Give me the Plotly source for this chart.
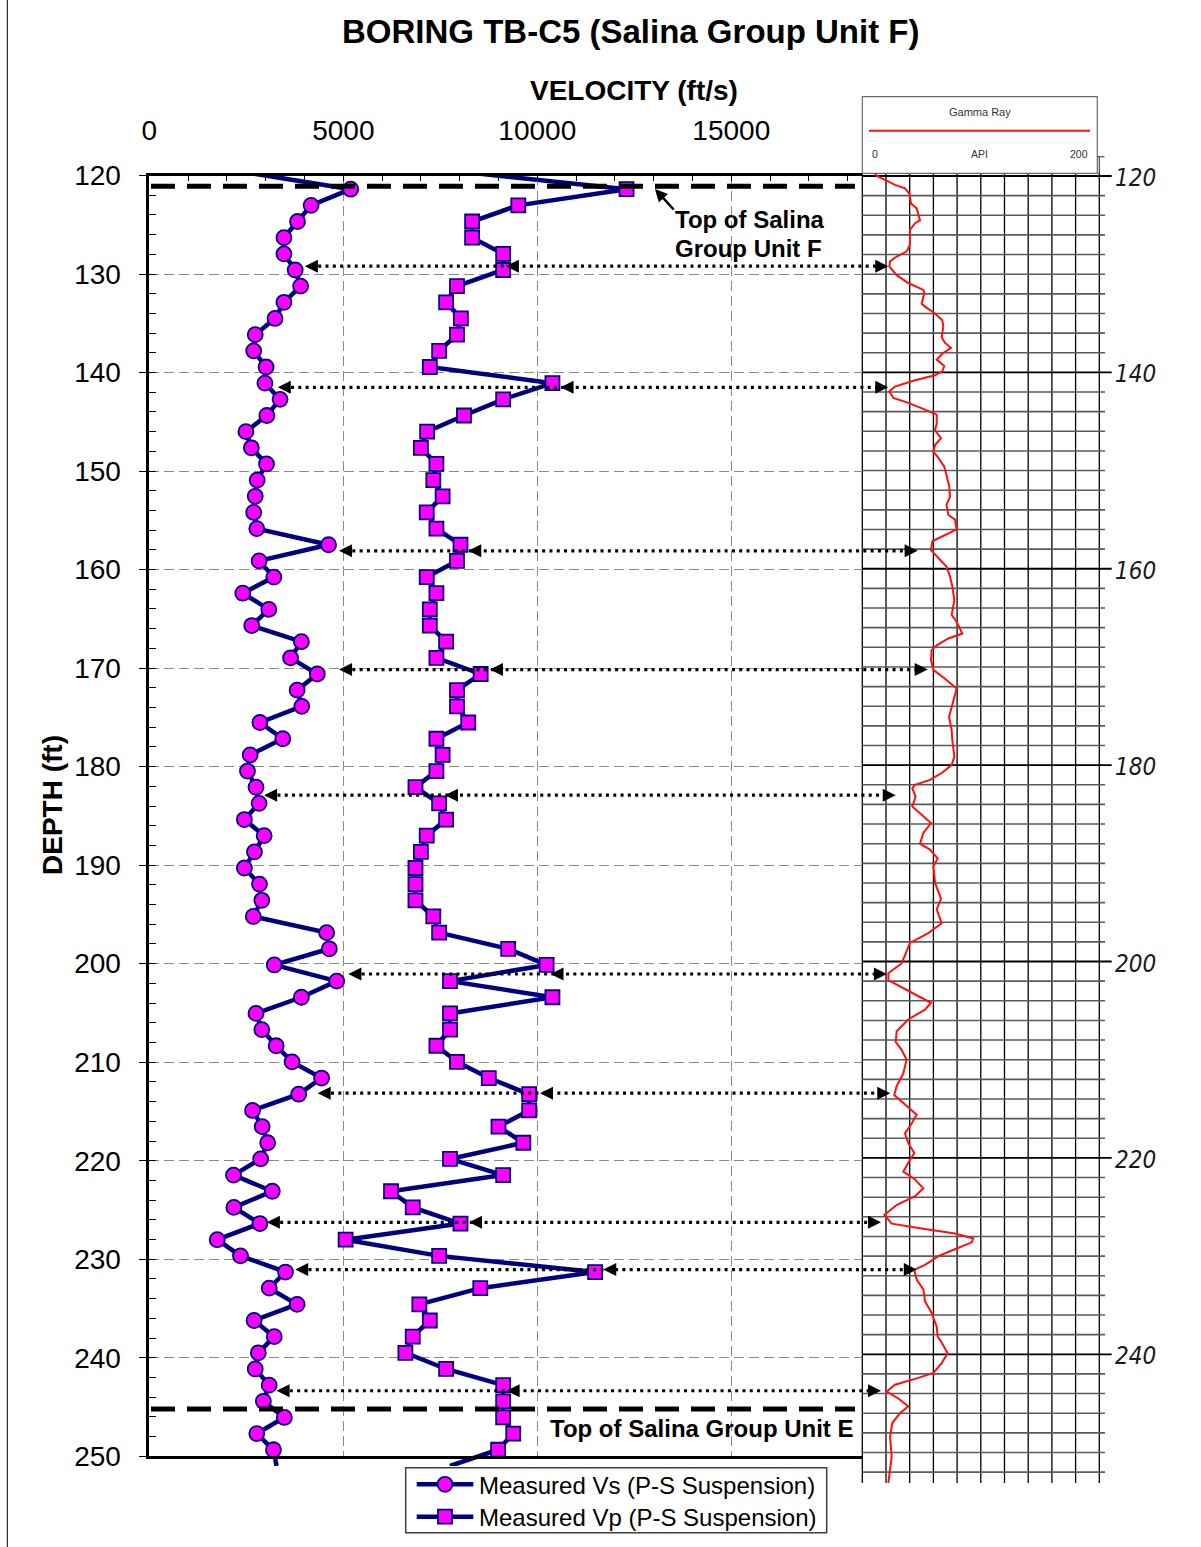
import plotly.graph_objects as go

# ---------------------------------------------------------------- data
# P-S suspension readings, every 0.5 m (depths in ft). The first and last
# readings sit just outside the plotted 120-250 ft window.
DEPTH_FT = [119.75, 121.39, 123.03, 124.67, 126.31, 127.95, 129.59, 131.23, 132.87, 134.51,
            136.15, 137.80, 139.44, 141.08, 142.72, 144.36, 146.00, 147.64, 149.28, 150.92,
            152.56, 154.20, 155.84, 157.48, 159.12, 160.76, 162.40, 164.04, 165.68, 167.32,
            168.96, 170.60, 172.24, 173.88, 175.52, 177.17, 178.81, 180.45, 182.09, 183.73,
            185.37, 187.01, 188.65, 190.29, 191.93, 193.57, 195.21, 196.85, 198.49, 200.13,
            201.77, 203.41, 205.05, 206.69, 208.33, 209.97, 211.61, 213.25, 214.90, 216.54,
            218.18, 219.82, 221.46, 223.10, 224.74, 226.38, 228.02, 229.66, 231.30, 232.94,
            234.58, 236.22, 237.86, 239.50, 241.14, 242.78, 244.42, 246.06, 247.70, 249.34,
            250.98]

VS_FTS = [2600, 5190, 4170, 3820, 3470, 3470, 3760, 3900, 3470, 3240,
          2730, 2690, 3010, 2980, 3370, 3030, 2490, 2630, 3020, 2780,
          2730, 2690, 2770, 4620, 2830, 3210, 2410, 3080, 2640, 3920,
          3640, 4330, 3810, 3930, 2850, 3440, 2600, 2530, 2750, 2830,
          2450, 2960, 2710, 2450, 2840, 2900, 2680, 4570, 4640, 3220,
          4830, 3920, 2750, 2900, 3270, 3680, 4440, 3850, 2660, 2910,
          3050, 2870, 2170, 3170, 2180, 2850, 1750, 2350, 3510, 3090,
          3810, 2700, 3220, 2810, 2730, 3090, 2940, 3480, 2770, 3200,
          3280]

VP_FTS = [8350, 12300, 9510, 8320, 8320, 9120, 9120, 7930, 7650, 8030,
          7930, 7470, 7230, 10390, 9120, 8110, 7160, 7000, 7400, 7320,
          7560, 7150, 7400, 8020, 7930, 7150, 7400, 7230, 7230, 7650,
          7400, 8540, 7930, 7930, 8220, 7400, 7560, 7400, 6860, 7470,
          7650, 7150, 7000, 6860, 6860, 6860, 7320, 7470, 9250, 10240,
          7750, 10390, 7750, 7750, 7400, 7930, 8750, 9790, 9790, 9000,
          9640, 7750, 9120, 6230, 6790, 8020, 5060, 7470, 11490, 8530,
          6960, 7230, 6790, 6600, 7650, 9120, 9120, 9120, 9380, 8990,
          7750]

# Natural gamma log (API) against depth (ft)
GR_DEPTH = [119.7, 120.0, 120.4, 120.9, 121.25, 121.8, 122.8, 123.3, 124.5, 124.8,
            125.5, 126.2, 127.0, 127.7, 128.2, 128.7, 129.2, 130.1, 130.9, 131.6,
            131.9, 133.0, 133.3, 134.0, 134.7, 135.3, 136.4, 137.0, 137.5, 138.1,
            138.7, 139.35, 139.9, 140.3, 140.8, 141.45, 141.95, 142.6, 143.1, 143.8,
            144.3, 145.2, 145.9, 146.7, 147.4, 148.1, 148.6, 149.6, 150.6, 151.6,
            152.7, 153.5, 154.5, 155.0, 156.0, 156.7, 157.2, 158.1, 158.9, 159.8,
            160.8, 161.8, 163.2, 164.7, 165.4, 166.6, 167.1, 167.8, 168.3, 169.3,
            170.3, 171.2, 172.2, 173.4, 175.1, 176.4, 177.5, 179.1, 180.0, 180.8,
            181.5, 182.0, 182.35, 183.2, 184.2, 185.2, 185.9, 186.9, 188.0, 188.6,
            189.5, 190.3, 192.0, 193.6, 194.7, 196.1, 197.1, 198.1, 199.2, 200.2,
            201.2, 201.9, 202.9, 204.2, 204.9, 205.9, 207.1, 208.2, 209.0, 210.0,
            211.4, 212.7, 213.6, 214.4, 215.6, 216.5, 217.5, 218.5, 219.5, 220.5,
            221.4, 222.2, 223.1, 223.9, 224.8, 225.8, 226.7, 227.2, 227.7, 228.2,
            228.6, 229.3, 230.0, 230.9, 231.4, 232.4, 233.4, 234.6, 235.8, 237.2,
            238.2, 238.9, 239.9, 240.9, 241.9, 242.4, 243.1, 243.8, 244.5, 245.3,
            246.0, 247.0, 248.4, 250.4, 251.8, 253.1]

GR_API = [10.7, 12.1, 19.2, 27.6, 36.0, 39.7, 41.1, 45.9, 48.7, 44.5,
          40.2, 40.2, 40.2, 37.4, 29.0, 23.4, 22.8, 29.0, 38.8, 51.5,
          52.4, 50.1, 52.9, 61.4, 67.5, 68.4, 67.0, 69.8, 74.8, 67.5,
          62.8, 69.2, 67.5, 61.4, 44.5, 27.6, 22.8, 26.2, 38.8, 52.9,
          62.8, 62.8, 61.4, 66.4, 61.4, 60.0, 63.6, 69.2, 71.2, 73.4,
          74.0, 71.0, 72.6, 78.2, 79.6, 67.0, 59.1, 58.0, 64.2, 71.2,
          74.0, 76.0, 77.7, 75.4, 79.6, 84.4, 72.6, 62.8, 58.5, 58.0,
          60.0, 69.8, 79.6, 76.8, 73.2, 75.4, 76.0, 77.7, 75.4, 67.0,
          57.1, 44.5, 42.2, 45.0, 42.2, 51.5, 58.0, 51.5, 48.7, 57.1,
          63.6, 60.0, 61.4, 66.4, 62.8, 67.0, 55.7, 40.2, 36.6, 33.2,
          22.0, 22.0, 37.5, 58.0, 52.9, 38.8, 29.0, 28.2, 33.2, 37.4,
          34.6, 29.0, 27.0, 34.6, 45.9, 41.7, 36.0, 38.8, 43.9, 38.8,
          34.6, 44.5, 51.5, 44.5, 29.0, 18.6, 24.8, 50.1, 78.2, 93.7,
          92.3, 78.2, 64.2, 52.9, 43.9, 45.9, 51.5, 52.9, 58.5, 62.8,
          63.6, 67.5, 72.0, 67.0, 60.0, 47.3, 27.6, 20.6, 30.4, 38.8,
          31.8, 25.3, 23.4, 24.8, 23.4, 22.0]

# Correlation arrows: depth (ft), Vs tip (ft/s), Vp tip (ft/s), gamma tip (API)
ARROW_DEPTH = [129.2, 141.5, 158.1, 170.15, 182.9, 201.05, 213.15, 226.25, 231.05, 243.35]
ARROW_VS_TIP = [4010, 3310, 4890, 4890, 2960, 5130, 4340, 3030, 3760, 3280]
ARROW_VP_TIP = [9190, 10600, 8220, 8780, 7620, 10340, 10070, 8240, 11700, 9210]
ARROW_GR_TIP = [21.9, 21.9, 46.7, 55.2, 28.2, 20.8, 23.6, 15.8, 46.0, 15.8]

TOP_UNIT_F_FT = 121.08
TOP_UNIT_E_FT = 245.2

DEPTH_TICKS = [120, 140, 160, 180, 200, 220, 240]

# ---------------------------------------------------------------- page geometry
W, H = 1201, 1547
PLOT_LEFT, PLOT_RIGHT = 149.3, 862.3      # px of 0 ft/s and right edge of velocity frame
PX_PER_FTS = 194.0 / 5000.0
PLOT_TOP = 175.5                           # px of 120 ft
PX_PER_FT = 9.852
GR_LEFT, GR_RIGHT = 862.3, 1099.3          # px of 0 and 200 API
GR_TOP = 176.0                             # px of 120 ft on the log strip
GR_PX_PER_FT = 9.819

NAVY = "#000080"
MAGENTA = "#FF00FF"
FONT = "Liberation Sans, Arial, sans-serif"
NARROW = "Liberation Sans Narrow, DejaVu Sans Condensed, Roboto Condensed, Liberation Sans, sans-serif"


def vel_px(v):
    return PLOT_LEFT + v * PX_PER_FTS


def dep_px(d):
    return PLOT_TOP + (d - 120.0) * PX_PER_FT


def api_px(a):
    return GR_LEFT + a * (GR_RIGHT - GR_LEFT) / 200.0


def grdep_px(d):
    return GR_TOP + (d - 120.0) * GR_PX_PER_FT


def fx(px):
    return px / W


def fy(py):
    return 1.0 - py / H


fig = go.Figure()

# ---------------------------------------------------------------- velocity traces
# line ends that run past the frame (drawn underneath the main subplot)
ext_x_vs = [VS_FTS[0], VS_FTS[1], None, VS_FTS[-2], VS_FTS[-1]]
ext_x_vp = [VP_FTS[0], VP_FTS[1], None, VP_FTS[-2], VP_FTS[-1]]
ext_y = [DEPTH_FT[0], DEPTH_FT[1], None, DEPTH_FT[-2], DEPTH_FT[-1]]
for xs in (ext_x_vs, ext_x_vp):
    fig.add_trace(go.Scatter(x=xs, y=ext_y, mode="lines", xaxis="x", yaxis="y",
                             line=dict(color=NAVY, width=4.5), showlegend=False,
                             hoverinfo="skip", connectgaps=False))

in_depth = DEPTH_FT[1:-1]
fig.add_trace(go.Scatter(
    x=VS_FTS[1:-1], y=in_depth, mode="lines+markers", xaxis="x2", yaxis="y2",
    name="Measured Vs (P-S Suspension)",
    line=dict(color=NAVY, width=4.5),
    marker=dict(symbol="circle", size=15, color=MAGENTA, line=dict(color=NAVY, width=1.8)),
    showlegend=False, cliponaxis=False))
fig.add_trace(go.Scatter(
    x=VP_FTS[1:-1], y=in_depth, mode="lines+markers", xaxis="x2", yaxis="y2",
    name="Measured Vp (P-S Suspension)",
    line=dict(color=NAVY, width=4.5),
    marker=dict(symbol="square", size=14, color=MAGENTA, line=dict(color=NAVY, width=1.8)),
    showlegend=False, cliponaxis=False))

# ---------------------------------------------------------------- gamma log trace
GR_D0, GR_D1 = 119.7, 253.1
fig.add_trace(go.Scatter(x=GR_API, y=GR_DEPTH, mode="lines", xaxis="x3", yaxis="y3",
                         line=dict(color="#FF1010", width=2), showlegend=False,
                         name="Gamma Ray"))

# ---------------------------------------------------------------- legend samples
LEG = dict(x0=405.7, y0=1467.7, x1=826.7, y1=1532.7)
LEG_ROWS = [1484.3, 1516.7]
LEG_SYMBOLS = [("circle", 15), ("square", 14)]
LEG_TEXT = ["Measured Vs (P-S Suspension)", "Measured Vp (P-S Suspension)"]
for row_y, (sym, sz) in zip(LEG_ROWS, LEG_SYMBOLS):
    fig.add_trace(go.Scatter(x=[416.7, 473.3], y=[row_y, row_y], mode="lines",
                             xaxis="x4", yaxis="y4", line=dict(color=NAVY, width=4.5),
                             showlegend=False, hoverinfo="skip"))
    fig.add_trace(go.Scatter(x=[445.0], y=[row_y], mode="markers", xaxis="x4", yaxis="y4",
                             marker=dict(symbol=sym, size=sz, color=MAGENTA,
                                         line=dict(color=NAVY, width=1.8)),
                             showlegend=False, hoverinfo="skip", cliponaxis=False))

# ---------------------------------------------------------------- axes
x_max = (PLOT_RIGHT - PLOT_LEFT) / PX_PER_FTS
vel_dom = [fx(PLOT_LEFT), fx(PLOT_RIGHT)]
hidden = dict(visible=False, showgrid=False, zeroline=False, fixedrange=True,
              automargin=False)

layout = dict(
    template="none",
    width=W, height=H, autosize=False,
    margin=dict(l=0, r=0, t=0, b=0, pad=0, autoexpand=False),
    paper_bgcolor="white", plot_bgcolor="rgba(0,0,0,0)",
    showlegend=False, font=dict(family=FONT, color="black"),
    # extension strip (same scale as the main frame)
    xaxis=dict(domain=vel_dom, range=[0, x_max], anchor="y", **hidden),
    yaxis=dict(domain=[fy(dep_px(DEPTH_FT[-1])), fy(dep_px(DEPTH_FT[0]))],
               range=[DEPTH_FT[-1], DEPTH_FT[0]], anchor="x", **hidden),
    # main velocity frame
    xaxis2=dict(domain=vel_dom, range=[0, x_max], anchor="y2", side="top",
                showline=True, linecolor="black", linewidth=2.5, mirror=True,
                ticks="inside", ticklen=6, tickwidth=1, tickcolor="black",
                tick0=0, dtick=5000, tickformat="d",
                minor=dict(dtick=1000, ticks="inside", ticklen=6, tickwidth=1,
                           tickcolor="black", showgrid=False),
                showgrid=True, gridcolor="#8a8a8a", gridwidth=1, griddash="10px,5px",
                zeroline=False, tickfont=dict(family=FONT, size=28, color="black"),
                ticklabelstandoff=22, fixedrange=True, automargin=False),
    yaxis2=dict(domain=[fy(dep_px(250)), fy(dep_px(120))], range=[250, 120], anchor="x2",
                showline=True, linecolor="black", linewidth=2.5, mirror=False,
                ticks="outside", ticklen=8, tickwidth=1, tickcolor="black",
                tick0=120, dtick=10,
                minor=dict(dtick=2, ticks="inside", ticklen=7, tickwidth=1,
                           tickcolor="black", showgrid=False),
                showgrid=True, gridcolor="#8a8a8a", gridwidth=1, griddash="10px,5px",
                zeroline=False, tickfont=dict(family=FONT, size=28, color="black"),
                ticklabelstandoff=12, fixedrange=True, automargin=False),
    # gamma log strip
    xaxis3=dict(domain=[fx(GR_LEFT), fx(GR_RIGHT)], range=[0, 200], anchor="y3", **hidden),
    yaxis3=dict(domain=[fy(grdep_px(GR_D1)), fy(grdep_px(GR_D0))], range=[GR_D1, GR_D0],
                anchor="x3", **hidden),
    # legend box (pixel units)
    xaxis4=dict(domain=[fx(LEG["x0"]), fx(LEG["x1"])], range=[LEG["x0"], LEG["x1"]],
                anchor="y4", **hidden),
    yaxis4=dict(domain=[fy(LEG["y1"]), fy(LEG["y0"])], range=[LEG["y1"], LEG["y0"]],
                anchor="x4", **hidden),
)
fig.update_layout(**layout)

shapes = []
annotations = []


def pline(x0, y0, x1, y1, color="black", width=1, dash=None, layer="below"):
    ln = dict(color=color, width=width)
    if dash:
        ln["dash"] = dash
    shapes.append(dict(type="line", xref="paper", yref="paper", x0=fx(x0), y0=fy(y0),
                       x1=fx(x1), y1=fy(y1), line=ln, layer=layer))


def text(px, py, s, size, xanchor="center", yanchor="middle", bold=False, color="black",
         family=FONT, italic=False, angle=0):
    annotations.append(dict(
        x=fx(px), y=fy(py), xref="paper", yref="paper", text=s, showarrow=False,
        xanchor=xanchor, yanchor=yanchor, textangle=angle,
        font=dict(family=family, size=size, color=color,
                  weight="bold" if bold else "normal",
                  style="italic" if italic else "normal")))


# page edge rule
pline(7.3, 0, 7.3, H, width=1)

# ---------------------------------------------------------------- gamma strip grid
grid_top_px = grdep_px(GR_D0)
grid_bot_px = grdep_px(GR_D1)
for a in range(0, 201, 20):
    pline(api_px(a), grid_top_px, api_px(a), grid_bot_px, width=1.3)
for d in range(122, 253, 2):
    if (d - 120) % 20 == 0:
        continue
    pline(GR_LEFT, grdep_px(d), GR_LEFT + 242.7, grdep_px(d), color="#5a5a5a", width=1.6)
for d in DEPTH_TICKS:
    pline(GR_LEFT, grdep_px(d), GR_LEFT + 249.4, grdep_px(d), width=1.8)
    text(1135, grdep_px(d) + 2, str(d), 24, family=NARROW, italic=True, color="#1a1a1a")

# log header box
shapes.append(dict(type="rect", xref="paper", yref="paper", x0=fx(862.3), x1=fx(1097.3),
                   y0=fy(173.3), y1=fy(96.7), fillcolor="white",
                   line=dict(color="#6a6a6a", width=1.2), layer="below"))
pline(869, 130.7, 1090, 130.7, color="#FF1010", width=2)
text(980, 112, "Gamma Ray", 11, color="#333333")
text(869.5, 154.5, "0", 10.5, xanchor="left", color="#333333")
text(979.5, 154.5, "API", 10.5, color="#333333")
text(1089.5, 154.5, "200", 10.5, xanchor="right", color="#333333")
pline(1097.3, 156.7, 1104.5, 156.7, color="#444444", width=1.2)
pline(1099.3, 156.7, 1099.3, 173.3, color="#444444", width=1.2)

# ---------------------------------------------------------------- formation tops
for d in (TOP_UNIT_F_FT, TOP_UNIT_E_FT):
    pline(151, dep_px(d), 855, dep_px(d), width=5, dash="24px,12px", layer="above")

text(673, 220, "Top of Salina", 24, xanchor="left", bold=True)
text(673, 248.5, "Group Unit F", 24, xanchor="left", bold=True)
annotations.append(dict(x=fx(655), y=fy(189), xref="paper", yref="paper", text="",
                        showarrow=True, ax=20, ay=22, axref="pixel", ayref="pixel",
                        arrowhead=2, arrowsize=1, arrowwidth=2.5, arrowcolor="black",
                        standoff=0))
text(548, 1428.5, "Top of Salina Group Unit E", 24, xanchor="left", bold=True)

# ---------------------------------------------------------------- correlation arrows
HEAD_L, HEAD_H = 13.0, 6.5


def head(tip_x, tip_y, pointing):
    back = tip_x - pointing * HEAD_L
    path = "M{:.5f},{:.5f} L{:.5f},{:.5f} L{:.5f},{:.5f} Z".format(
        fx(tip_x), fy(tip_y), fx(back), fy(tip_y - HEAD_H), fx(back), fy(tip_y + HEAD_H))
    shapes.append(dict(type="path", xref="paper", yref="paper", path=path,
                       fillcolor="black", line=dict(color="black", width=0), layer="above"))


for d, vs_tip, vp_tip, gr_tip in zip(ARROW_DEPTH, ARROW_VS_TIP, ARROW_VP_TIP, ARROW_GR_TIP):
    py = dep_px(d)
    left = vel_px(vs_tip)
    mid = vel_px(vp_tip)
    right = api_px(gr_tip)
    pline(left + 6, py, right - 6, py, width=3.2, dash="3px,4.3px", layer="above")
    head(left, py, -1)
    head(mid, py, -1)
    head(right, py, 1)

# ---------------------------------------------------------------- legend box and labels
shapes.append(dict(type="rect", xref="paper", yref="paper", x0=fx(LEG["x0"]), x1=fx(LEG["x1"]),
                   y0=fy(LEG["y1"]), y1=fy(LEG["y0"]), fillcolor="white",
                   line=dict(color="#404040", width=1.5), layer="below"))
for row_y, label in zip(LEG_ROWS, LEG_TEXT):
    text(476.5, row_y + 1, label, 24, xanchor="left")

# ---------------------------------------------------------------- titles
text(630, 31, "BORING TB-C5 (Salina Group Unit F)", 33, bold=True)
text(634, 90, "VELOCITY (ft/s)", 28, bold=True)
text(52, 805, "DEPTH (ft)", 28, bold=True, angle=-90)

fig.update_layout(shapes=shapes, annotations=annotations)

# the figure fills the whole page: no body margin, no scrollbars
PAGE_CSS = ("document.documentElement.style.margin='0';"
            "document.documentElement.style.overflow='hidden';"
            "document.body.style.margin='0';document.body.style.padding='0';"
            "document.body.style.overflow='hidden';")
fig.write_html("out.html", post_script=PAGE_CSS)
